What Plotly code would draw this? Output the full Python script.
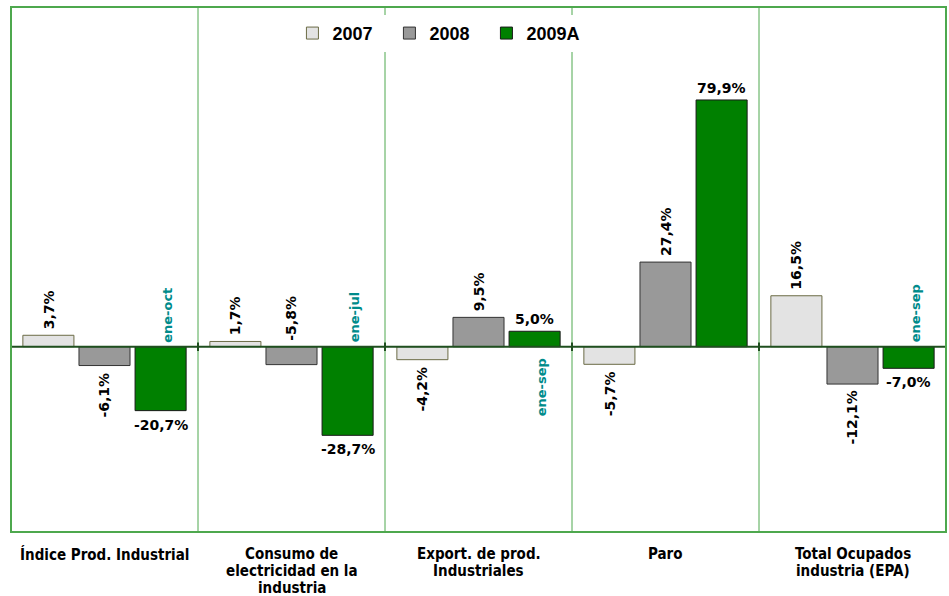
import plotly.graph_objects as go

# Indicadores industriales: tasas de variación anual (%)
categorias = [
    "Índice Prod. Industrial",
    "Consumo de<br>electricidad en la<br>industria",
    "Export. de prod.<br>Industriales",
    "Paro",
    "Total Ocupados<br>industria (EPA)",
]
series = ["2007", "2008", "2009A"]
v2007 = [3.7, 1.7, -4.2, -5.7, 16.5]
v2008 = [-6.1, -5.8, 9.5, 27.4, -12.1]
v2009 = [-20.7, -28.7, 5.0, 79.9, -7.0]
periodo_2009 = ["ene-oct", "ene-jul", "ene-sep", "", "ene-sep"]

valores = [v2007, v2008, v2009]
relleno = ["#e3e3e3", "#999999", "#008000"]
borde = ["#6b6b45", "#333333", "#1a1a1a"]

BARGAP = 0.1
SLOT = (1 - BARGAP) / 3  # ancho de cada barra dentro del grupo (unidades de categoría)

x = list(range(len(categorias)))

fig = go.Figure()
for s, vals, fc, lc in zip(series, valores, relleno, borde):
    fig.add_trace(go.Bar(
        x=x, y=vals, name=f"<b>{s}</b>",
        marker=dict(color=fc, line=dict(color=lc, width=1)),
        hoverinfo="skip",
    ))

def etiqueta(v):
    return f"{v:.1f}".replace(".", ",") + "%"

font_val = dict(family="DejaVu Sans", size=14, color="#000000")
annotations = []
for k, vals in enumerate(valores):
    for i, v in enumerate(vals):
        xi = i + (k - 1) * SLOT
        if k < 2:
            # etiquetas verticales para 2007 y 2008
            arriba = v >= 0 or (k == 1 and i == 1)
            annotations.append(dict(
                x=xi, y=(v if v >= 0 else 0) if arriba else v,
                xref="x", yref="y", text=f"<b>{etiqueta(v)}</b>",
                textangle=-90, showarrow=False, font=font_val,
                xanchor="center", yanchor="bottom" if arriba else "top",
                yshift=4 if arriba else -5,
            ))
        else:
            annotations.append(dict(
                x=xi, y=v, xref="x", yref="y", text=f"<b>{etiqueta(v)}</b>",
                showarrow=False, font=font_val, xanchor="center",
                yanchor="bottom" if v >= 0 else "top",
                yshift=2 if v >= 0 else -4,
            ))

# periodo de referencia de 2009
for i, p in enumerate(periodo_2009):
    if not p:
        continue
    xi = i + SLOT
    abajo = v2009[i] > 0
    annotations.append(dict(
        x=xi, y=0, xref="x", yref="y", text=f"<b>{p}</b>",
        textangle=-90, showarrow=False,
        font=dict(family="DejaVu Sans", size=13, color="#008b8b"),
        xanchor="center", yanchor="top" if abajo else "bottom",
        xshift=7, yshift=-10 if abajo else 2,
    ))

# nombres de categoría bajo el eje, con interlineado compacto
for i, c in enumerate(categorias):
    for j, linea in enumerate(c.split("<br>")):
        annotations.append(dict(
            x=i, y=0, xref="x", yref="paper", text=f"<b>{linea}</b>",
            showarrow=False, xanchor="center", yanchor="top", borderpad=0,
            yshift=-(12 + 17.2 * j),
            font=dict(family="DejaVu Sans Condensed", size=15, color="#000000"),
        ))

shapes = []
verde = "#4ea84e"
for b in [0.5, 1.5, 2.5, 3.5]:
    shapes.append(dict(type="line", xref="x", yref="paper", x0=b, x1=b, y0=0, y1=1,
                       line=dict(color=verde, width=1), layer="below"))
# línea de cero con pequeñas marcas
shapes.append(dict(type="line", xref="paper", yref="y", x0=0, x1=1, y0=0, y1=0,
                   line=dict(color="#1f4f1f", width=2)))
for b in [-0.5, 0.5, 1.5, 2.5, 3.5, 4.5]:
    shapes.append(dict(type="line", xref="x", yref="y", x0=b, x1=b, y0=-1.4, y1=1.4,
                       line=dict(color="#1f4f1f", width=2)))
# marco del área de trazado
shapes.append(dict(type="rect", xref="paper", yref="paper", x0=0, x1=1, y0=0, y1=1,
                   line=dict(color=verde, width=2)))

fig.update_layout(
    width=949, height=596,
    margin=dict(l=11, r=3, t=7, b=64, autoexpand=False),
    paper_bgcolor="white", plot_bgcolor="white",
    barmode="group", bargap=BARGAP, bargroupgap=0.09,
    showlegend=True,
    legend=dict(
        orientation="h", x=0.301, y=0.985, xanchor="left", yanchor="top",
        bgcolor="white", font=dict(family="Liberation Sans", size=18, color="#000000"),
        traceorder="normal", entrywidth=52, entrywidthmode="pixels",
    ),
    annotations=annotations,
    shapes=shapes,
    xaxis=dict(
        range=[-0.5, 4.5], tickvals=x, showticklabels=False,
        showgrid=False, zeroline=False, showline=False, automargin=False,
        ticks="", fixedrange=True,
    ),
    yaxis=dict(
        range=[-60, 110], showticklabels=False, showgrid=False, zeroline=False,
        showline=False, fixedrange=True, automargin=False,
    ),
)

fig.write_html("out.html")
